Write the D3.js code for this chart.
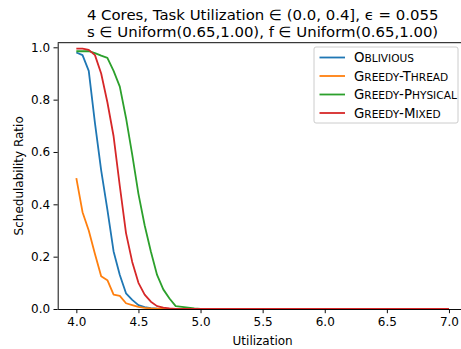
<!DOCTYPE html>
<html>
<head>
<meta charset="utf-8">
<title>Schedulability Ratio</title>
<script src="https://d3js.org/d3.v7.min.js"></script>
<style>
    body { margin: 0; background: #fff; }
    text { font-family: "DejaVu Sans", sans-serif; fill: #000; }
</style>
</head>
<body>
<div id="stage"></div>
<script>
// utilization steps 4.0 .. 7.0 by 0.05
var utilization = [4.00, 4.05, 4.10, 4.15, 4.20, 4.25, 4.30, 4.35, 4.40, 4.45,
    4.50, 4.55, 4.60, 4.65, 4.70, 4.75, 4.80, 4.85, 4.90, 4.95,
    5.00, 5.05, 5.10, 5.15, 5.20, 5.25, 5.30, 5.35, 5.40, 5.45,
    5.50, 5.55, 5.60, 5.65, 5.70, 5.75, 5.80, 5.85, 5.90, 5.95,
    6.00, 6.05, 6.10, 6.15, 6.20, 6.25, 6.30, 6.35, 6.40, 6.45,
    6.50, 6.55, 6.60, 6.65, 6.70, 6.75, 6.80, 6.85, 6.90, 6.95, 7.00];

var oblivious = [0.98, 0.97, 0.91, 0.71, 0.53, 0.38, 0.22, 0.13, 0.06, 0.035,
    0.015, 0.007, 0.003, 0.001, 0, 0, 0, 0, 0, 0,
    0, 0, 0, 0, 0, 0, 0, 0, 0, 0, 0, 0, 0, 0, 0, 0, 0, 0, 0, 0,
    0, 0, 0, 0, 0, 0, 0, 0, 0, 0, 0, 0, 0, 0, 0, 0, 0, 0, 0, 0, 0];

var greedyThread = [0.50, 0.37, 0.30, 0.21, 0.125, 0.11, 0.055, 0.05, 0.022, 0.015,
    0.008, 0.004, 0.002, 0.001, 0, 0, 0, 0, 0, 0,
    0, 0, 0, 0, 0, 0, 0, 0, 0, 0, 0, 0, 0, 0, 0, 0, 0, 0, 0, 0,
    0, 0, 0, 0, 0, 0, 0, 0, 0, 0, 0, 0, 0, 0, 0, 0, 0, 0, 0, 0, 0];

var greedyPhysical = [0.985, 0.985, 0.985, 0.978, 0.968, 0.96, 0.91, 0.85, 0.73, 0.59,
    0.44, 0.32, 0.22, 0.13, 0.075, 0.04, 0.011, 0.008, 0.005, 0.002,
    0, 0, 0, 0, 0, 0, 0, 0, 0, 0, 0, 0, 0, 0, 0, 0, 0, 0, 0, 0,
    0, 0, 0, 0, 0, 0, 0, 0, 0, 0, 0, 0, 0, 0, 0, 0, 0, 0, 0, 0, 0];

var greedyMixed = [0.995, 0.995, 0.99, 0.97, 0.90, 0.79, 0.66, 0.47, 0.29, 0.18,
    0.10, 0.055, 0.028, 0.011, 0.005, 0.002, 0, 0, 0, 0,
    0, 0, 0, 0, 0, 0, 0, 0, 0, 0, 0, 0, 0, 0, 0, 0, 0, 0, 0, 0,
    0, 0, 0, 0, 0, 0, 0, 0, 0, 0, 0, 0, 0, 0, 0, 0, 0, 0, 0, 0, 0];

var seriesNames = ["Oblivious", "Greedy-Thread", "Greedy-Physical", "Greedy-Mixed"];
var seriesColors = ["#1f77b4", "#ff7f0e", "#2ca02c", "#d62728"];
var seriesValues = [oblivious, greedyThread, greedyPhysical, greedyMixed];

var xTicks = [4.0, 4.5, 5.0, 5.5, 6.0, 6.5, 7.0];
var yTicks = [0.0, 0.2, 0.4, 0.6, 0.8, 1.0];

var width = 461;
var height = 349;
// plot area (right spine falls just outside the picture)
var plotLeft = 57.7, plotRight = 467.6, plotTop = 42.7, plotBottom = 309;

var svg = d3.select("#stage")
    .append("svg")
    .attr("width", width)
    .attr("height", height);

var x = d3.scaleLinear().domain([3.85, 7.15]).range([plotLeft, plotRight]);
var y = d3.scaleLinear().domain([0, 1.0176]).range([plotBottom, plotTop]);

// lines
var line = d3.line()
    .x(function(d) { return x(d[0]); })
    .y(function(d) { return y(d[1]); });

seriesValues.forEach(function(vals, i) {
    var pts = utilization.map(function(u, j) { return [u, vals[j]]; });
    svg.append("path")
        .datum(pts)
        .attr("d", line)
        .attr("fill", "none")
        .attr("stroke", seriesColors[i])
        .attr("stroke-width", 1.8)
        .attr("stroke-linejoin", "round");
});

// axes on top of lines, like matplotlib spines
var xAxis = svg.append("g")
    .attr("transform", "translate(0," + plotBottom + ")")
    .call(d3.axisBottom(x).tickValues(xTicks).tickFormat(d3.format(".1f")).tickSize(4.2).tickSizeOuter(0));
var yAxis = svg.append("g")
    .attr("transform", "translate(" + plotLeft + ",0)")
    .call(d3.axisLeft(y).tickValues(yTicks).tickFormat(d3.format(".1f")).tickSize(4.2).tickSizeOuter(0));

[xAxis, yAxis].forEach(function(g) {
    g.select(".domain").attr("stroke", "#000").attr("stroke-width", 0.96);
    g.selectAll(".tick line").attr("stroke", "#000").attr("stroke-width", 0.96);
    g.selectAll(".tick text").style("font-size", "12px").style("font-family", "DejaVu Sans");
});
xAxis.selectAll(".tick text").attr("dy", "0.95em").attr("y", 5.5);
yAxis.selectAll(".tick text").attr("x", -7.5);

// top spine
svg.append("line")
    .attr("x1", plotLeft).attr("x2", plotRight)
    .attr("y1", plotTop).attr("y2", plotTop)
    .attr("stroke", "#000").attr("stroke-width", 0.96);

// labels
svg.append("text")
    .attr("x", (plotLeft + plotRight) / 2).attr("y", 345)
    .attr("text-anchor", "middle")
    .style("font-size", "12px")
    .text("Utilization");

svg.append("text")
    .attr("transform", "translate(23," + ((plotTop + plotBottom) / 2) + ") rotate(-90)")
    .attr("text-anchor", "middle")
    .style("font-size", "12px")
    .text("Schedulability Ratio");

var titleLines = ["4 Cores, Task Utilization \u2208 (0.0, 0.4], \u03f5 = 0.055",
    "s \u2208 Uniform(0.65,1.00), f \u2208 Uniform(0.65,1.00)"];
titleLines.forEach(function(t, i) {
    svg.append("text")
        .attr("x", (plotLeft + plotRight) / 2).attr("y", 20 + i * 16.5)
        .attr("text-anchor", "middle")
        .style("font-size", "14.9px")
        .text(t);
});

// legend
var legend = svg.append("g");
legend.append("rect")
    .attr("x", 314).attr("y", 47)
    .attr("width", 144).attr("height", 76)
    .attr("rx", 2)
    .attr("fill", "#fff").attr("fill-opacity", 0.8)
    .attr("stroke", "#ccc").attr("stroke-width", 1);

// hand made small caps: word initials big, the rest smaller capitals
function smallCaps(textSel, name) {
    var parts = name.split(/(-)/);
    parts.forEach(function(p) {
        if (p === "-") {
            textSel.append("tspan").style("font-size", "13.3px").text("-");
            return;
        }
        textSel.append("tspan").style("font-size", "13.3px").text(p.charAt(0).toUpperCase());
        textSel.append("tspan").style("font-size", "10.6px").text(p.slice(1).toUpperCase());
    });
}

seriesNames.forEach(function(name, i) {
    var ly = 57.5 + i * 18.5;
    legend.append("line")
        .attr("x1", 319.5).attr("x2", 345)
        .attr("y1", ly).attr("y2", ly)
        .attr("stroke", seriesColors[i]).attr("stroke-width", 1.8);
    var t = legend.append("text")
        .attr("x", 354).attr("y", ly + 4.8);
    smallCaps(t, name);
});
</script>
</body>
</html>
